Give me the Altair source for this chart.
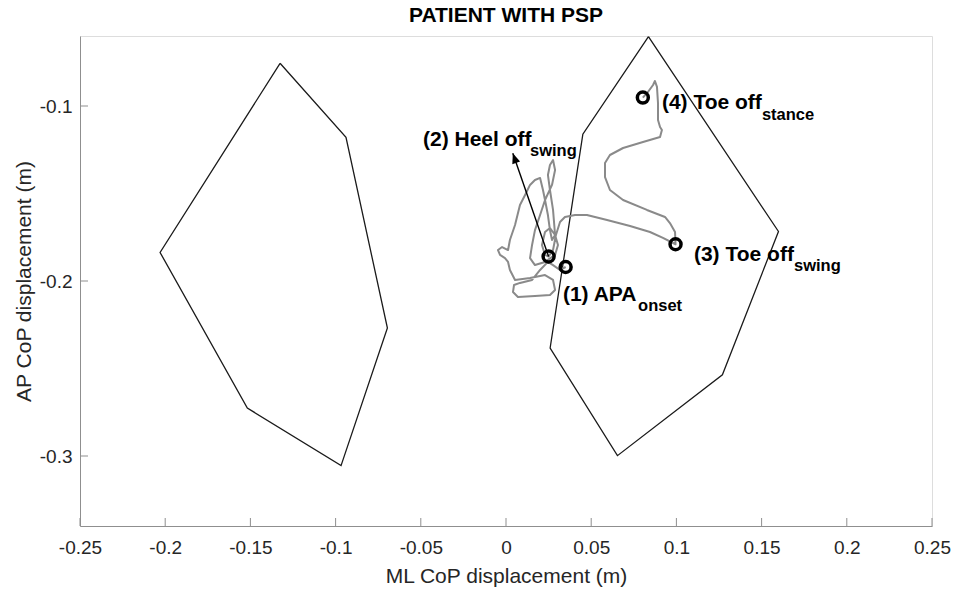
import altair as alt
import pandas as pd

# Support polygons of the two feet (m)
left_foot_x = [-0.1326, -0.0939, -0.0696, -0.0968, -0.1518, -0.2030, -0.1326]
left_foot_y = [-0.0756, -0.1179, -0.2269, -0.3055, -0.2726, -0.1837, -0.0756]
right_foot_x = [0.0836, 0.1599, 0.1270, 0.0654, 0.0259, 0.0451, 0.0836]
right_foot_y = [-0.0604, -0.1717, -0.2536, -0.2998, -0.2383, -0.1161, -0.0604]

# Centre-of-pressure trajectory (m)
cop_x = [0.0350, 0.0317, 0.0276, 0.0246, 0.0200, 0.0153, 0.0082, 0.0047, 0.0041, 0.0070,
         0.0170, 0.0258, 0.0288, 0.0276, 0.0229, 0.0141, 0.0053, 0.0023, 0.0012, -0.0006,
         -0.0035, -0.0047, -0.0023, 0.0012, 0.0023, 0.0053, 0.0082, 0.0112, 0.0141, 0.0170,
         0.0200, 0.0217, 0.0229, 0.0246, 0.0258, 0.0270, 0.0288, 0.0276, 0.0258, 0.0246,
         0.0258, 0.0276, 0.0288, 0.0270, 0.0229, 0.0200, 0.0170, 0.0153, 0.0141, 0.0170,
         0.0229, 0.0288, 0.0305, 0.0288, 0.0258, 0.0229, 0.0211, 0.0229, 0.0250, 0.0276,
         0.0293, 0.0317, 0.0346, 0.0405, 0.0475, 0.0593, 0.0728, 0.0845, 0.0921, 0.0995,
         0.0992, 0.0962, 0.0933, 0.0827, 0.0687, 0.0610, 0.0581, 0.0581, 0.0610, 0.0687,
         0.0804, 0.0904, 0.0915, 0.0904, 0.0892, 0.0892, 0.0886, 0.0874, 0.0863, 0.0833,
         0.0803]
cop_y = [-0.1920, -0.1937, -0.1909, -0.1891, -0.1937, -0.1994, -0.2011, -0.2023, -0.2063, -0.2091,
         -0.2086, -0.2080, -0.2051, -0.1994, -0.1966, -0.1983, -0.1994, -0.1937, -0.1891, -0.1869,
         -0.1851, -0.1823, -0.1806, -0.1823, -0.1766, -0.1680, -0.1566, -0.1509, -0.1451, -0.1423,
         -0.1411, -0.1480, -0.1537, -0.1623, -0.1709, -0.1766, -0.1737, -0.1594, -0.1480, -0.1394,
         -0.1337, -0.1309, -0.1366, -0.1451, -0.1537, -0.1623, -0.1709, -0.1794, -0.1869, -0.1909,
         -0.1891, -0.1851, -0.1794, -0.1737, -0.1697, -0.1720, -0.1794, -0.1851, -0.1860, -0.1823,
         -0.1737, -0.1663, -0.1634, -0.1623, -0.1623, -0.1651, -0.1686, -0.1720, -0.1754, -0.1790,
         -0.1720, -0.1669, -0.1634, -0.1594, -0.1537, -0.1480, -0.1406, -0.1326, -0.1280, -0.1240,
         -0.1206, -0.1177, -0.1137, -0.1120, -0.1080, -0.0983, -0.0891, -0.0857, -0.0880, -0.0920,
         -0.0952]

# Gait events
event_x = [0.0350, 0.0250, 0.0995, 0.0803]
event_y = [-0.1920, -0.1860, -0.1790, -0.0952]

label_main = ["(1) APA", "(2) Heel off", "(3) Toe off", "(4) Toe off"]
label_sub = ["onset", "swing", "swing", "stance"]
label_x = [0.0334, -0.0487, 0.1103, 0.0915]
label_y = [-0.2080, -0.1194, -0.1851, -0.0983]
sub_x = [0.0775, 0.0141, 0.1690, 0.1502]
sub_y = [-0.2143, -0.1257, -0.1914, -0.1051]

# Arrow from the heel-off event to its label
arrow_x = [0.0250, 0.0040]
arrow_y = [-0.1860, -0.1270]
arrow_angle = [340.8]

x_ticks = [-0.25, -0.2, -0.15, -0.1, -0.05, 0, 0.05, 0.1, 0.15, 0.2, 0.25]
y_ticks = [-0.3, -0.2, -0.1]

FONT = "Liberation Sans"
AXIS_GREY = "#8f8f8f"
TEXT_DARK = "#262626"

xs = alt.Scale(domain=[-0.25, 0.25], nice=False, zero=False)
ys = alt.Scale(domain=[-0.34, -0.06], nice=False, zero=False)

x_axis = alt.Axis(values=x_ticks, labelExpr="'' + datum.value", tickSize=0, grid=False,
                  domainColor=AXIS_GREY, labelFont=FONT, labelFontSize=19, labelColor=TEXT_DARK,
                  labelPadding=12, titleFont=FONT, titleFontSize=21, titleFontWeight="normal",
                  titleColor=TEXT_DARK, titlePadding=8, labelFlush=False)
y_axis = alt.Axis(values=y_ticks, labelExpr="'' + datum.value", tickSize=0, grid=False,
                  domainColor=AXIS_GREY, labelFont=FONT, labelFontSize=19, labelColor=TEXT_DARK,
                  labelPadding=8, titleFont=FONT, titleFontSize=21, titleFontWeight="normal",
                  titleColor=TEXT_DARK, titlePadding=5, labelFlush=False)

X = alt.X("x:Q", scale=xs, axis=x_axis, title="ML CoP displacement (m)")
Y = alt.Y("y:Q", scale=ys, axis=y_axis, title="AP CoP displacement (m)")

left_df = pd.DataFrame({"x": left_foot_x, "y": left_foot_y, "o": range(len(left_foot_x))})
right_df = pd.DataFrame({"x": right_foot_x, "y": right_foot_y, "o": range(len(right_foot_x))})
cop_df = pd.DataFrame({"x": cop_x, "y": cop_y, "o": range(len(cop_x))})
event_df = pd.DataFrame({"x": event_x, "y": event_y})
main_df = pd.DataFrame({"x": label_x, "y": label_y, "t": label_main})
sub_df = pd.DataFrame({"x": sub_x, "y": sub_y, "t": label_sub})
arrow_df = pd.DataFrame({"x": arrow_x, "y": arrow_y, "o": [0, 1]})
head_df = pd.DataFrame({"x": arrow_x[1:], "y": arrow_y[1:], "a": arrow_angle})
xt_df = pd.DataFrame({"x": x_ticks})
yt_df = pd.DataFrame({"y": y_ticks})

left_foot = alt.Chart(left_df).mark_line(color="#1a1a1a", strokeWidth=1.3).encode(x=X, y=Y, order="o:Q")
right_foot = alt.Chart(right_df).mark_line(color="#1a1a1a", strokeWidth=1.3).encode(x=X, y=Y, order="o:Q")
cop = alt.Chart(cop_df).mark_line(color="#8a8a8a", strokeWidth=2, strokeJoin="round").encode(
    x=X, y=Y, order="o:Q")
arrow = alt.Chart(arrow_df).mark_line(color="black", strokeWidth=1.4).encode(x=X, y=Y, order="o:Q")
head = alt.Chart(head_df).mark_point(
    shape="M0,0 L-0.4,1 L0.4,1 Z", filled=True, color="black", size=420, opacity=1
).encode(x=X, y=Y, angle=alt.Angle("a:Q", scale=None))
events = alt.Chart(event_df).mark_point(
    shape="circle", filled=False, color="black", size=120, strokeWidth=3.5, opacity=1
).encode(x=X, y=Y)
main_text = alt.Chart(main_df).mark_text(
    align="left", baseline="middle", font=FONT, fontSize=21, fontWeight="bold", color="black"
).encode(x=X, y=Y, text="t:N")
sub_text = alt.Chart(sub_df).mark_text(
    align="left", baseline="middle", font=FONT, fontSize=16.5, fontWeight="bold", color="black"
).encode(x=X, y=Y, text="t:N")
x_tick_marks = alt.Chart(xt_df).mark_rule(color=AXIS_GREY, strokeWidth=1).encode(
    x=X, y=alt.value(490), y2=alt.value(482))
y_tick_marks = alt.Chart(yt_df).mark_rule(color=AXIS_GREY, strokeWidth=1).encode(
    y=Y, x=alt.value(0), x2=alt.value(8))

chart = alt.layer(
    x_tick_marks, y_tick_marks, left_foot, right_foot, cop, arrow, head, events, main_text, sub_text
).properties(
    width=852,
    height=490,
    title=alt.Title("PATIENT WITH PSP", font=FONT, fontSize=21, fontWeight="bold",
                    color="black", anchor="middle", offset=8),
    autosize=alt.AutoSizeParams(type="none"),
    padding={"left": 80, "top": 36, "right": 23, "bottom": 63},
).configure_view(stroke=None).configure(background="white")

chart.save("out.html", embed_options={"renderer": "svg", "actions": False})
